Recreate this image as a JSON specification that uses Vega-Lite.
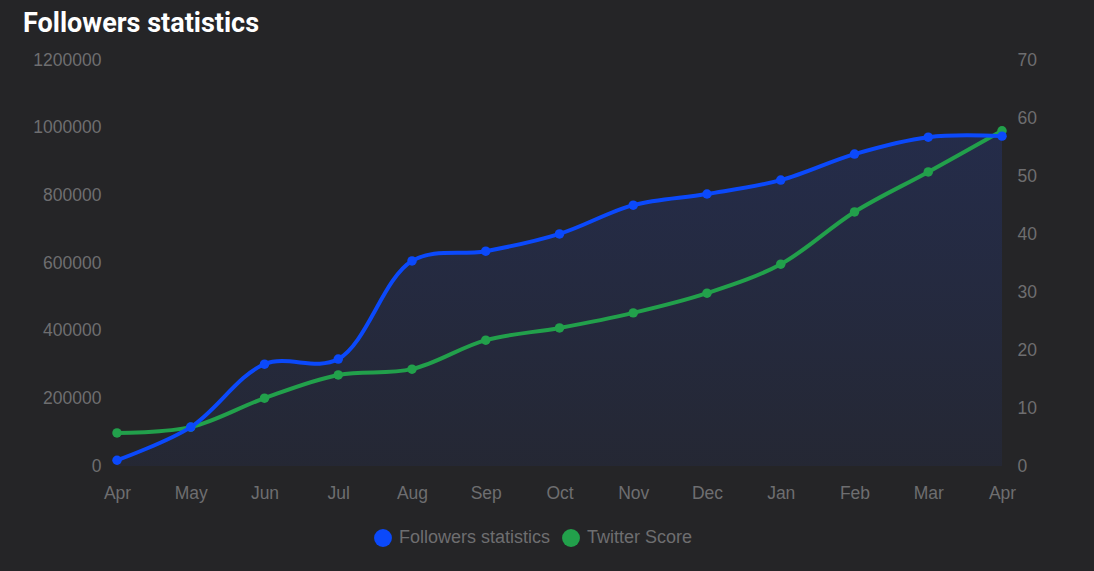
{
  "$schema": "https://vega.github.io/schema/vega-lite/v6.json",
  "autosize": "none",
  "width": 885,
  "height": 406,
  "padding": {"left": 117, "top": 60, "right": 92, "bottom": 105},
  "background": "#252527",
  "title": {"text": "Followers statistics", "anchor": "start", "frame": "group", "color": "#ffffff", "fontSize": 27, "font": "Roboto", "fontWeight": "bold", "dx": -94, "offset": 13},
  "config": {
    "view": {"stroke": null},
    "axis": {"grid": false, "domain": false, "ticks": false, "labelColor": "#6e6e70", "labelFont": "Liberation Sans", "labelFontSize": 17.5, "title": null},
    "legend": {"labelColor": "#6e6e70", "labelFont": "Liberation Sans", "labelFontSize": 18, "symbolType": "circle", "symbolSize": 320, "symbolStrokeWidth": 0, "labelOffset": 7, "title": null}
  },
  "data": {"values": [
    {"idx": 0, "series": "Followers statistics", "value": 17000},
    {"idx": 1, "series": "Followers statistics", "value": 115000},
    {"idx": 2, "series": "Followers statistics", "value": 301000},
    {"idx": 3, "series": "Followers statistics", "value": 316000},
    {"idx": 4, "series": "Followers statistics", "value": 606000},
    {"idx": 5, "series": "Followers statistics", "value": 635000},
    {"idx": 6, "series": "Followers statistics", "value": 686000},
    {"idx": 7, "series": "Followers statistics", "value": 771000},
    {"idx": 8, "series": "Followers statistics", "value": 804000},
    {"idx": 9, "series": "Followers statistics", "value": 845000},
    {"idx": 10, "series": "Followers statistics", "value": 922000},
    {"idx": 11, "series": "Followers statistics", "value": 972000},
    {"idx": 12, "series": "Followers statistics", "value": 975000},
    {"idx": 0, "series": "Twitter Score", "value": 5.7},
    {"idx": 1, "series": "Twitter Score", "value": 6.7},
    {"idx": 2, "series": "Twitter Score", "value": 11.7},
    {"idx": 3, "series": "Twitter Score", "value": 15.7},
    {"idx": 4, "series": "Twitter Score", "value": 16.7},
    {"idx": 5, "series": "Twitter Score", "value": 21.7},
    {"idx": 6, "series": "Twitter Score", "value": 23.8},
    {"idx": 7, "series": "Twitter Score", "value": 26.4},
    {"idx": 8, "series": "Twitter Score", "value": 29.8},
    {"idx": 9, "series": "Twitter Score", "value": 34.8},
    {"idx": 10, "series": "Twitter Score", "value": 43.8},
    {"idx": 11, "series": "Twitter Score", "value": 50.7},
    {"idx": 12, "series": "Twitter Score", "value": 57.8}
  ]},
  "encoding": {
    "x": {"field": "idx", "type": "quantitative", "scale": {"domain": [0, 12], "nice": false, "zero": false},
      "axis": {"values": [0,1,2,3,4,5,6,7,8,9,10,11,12], "labelExpr": "['Apr','May','Jun','Jul','Aug','Sep','Oct','Nov','Dec','Jan','Feb','Mar','Apr'][datum.value]", "labelPadding": 18, "labelFlush": false}}
  },
  "layer": [
    {
      "transform": [{"filter": "datum.series == 'Followers statistics'"}],
      "mark": {"type": "area", "interpolate": "catmull-rom", "color": {"gradient": "linear", "x1": 0, "y1": 0, "x2": 0, "y2": 1, "stops": [{"offset": 0, "color": "rgba(35,55,130,0.38)"}, {"offset": 1, "color": "rgba(35,55,130,0.14)"}]}},
      "encoding": {
        "y": {"field": "value", "type": "quantitative", "scale": {"domain": [0, 1200000], "nice": false}, "axis": null}
      }
    },
    {
      "transform": [{"filter": "datum.series == 'Twitter Score'"}],
      "encoding": {
        "y": {"field": "value", "type": "quantitative", "scale": {"domain": [0, 70], "nice": false},
          "axis": {"values": [0, 10, 20, 30, 40, 50, 60, 70], "labelPadding": 15, "orient": "right"}}
      },
      "layer": [
        {"mark": {"type": "line", "interpolate": "catmull-rom", "strokeWidth": 4},
          "encoding": {"color": {"field": "series", "type": "nominal", "scale": {"domain": ["Followers statistics", "Twitter Score"], "range": ["#0b49fb", "#22a04b"]},
            "legend": {"orient": "none", "direction": "horizontal", "legendX": 257, "legendY": 469, "columnPadding": 11}}}},
        {"mark": {"type": "point", "filled": true, "size": 90, "opacity": 1},
          "encoding": {"color": {"field": "series", "type": "nominal"}}}
      ]
    },
    {
      "transform": [{"filter": "datum.series == 'Followers statistics'"}],
      "encoding": {
        "y": {"field": "value", "type": "quantitative", "scale": {"domain": [0, 1200000], "nice": false},
          "axis": {"values": [0, 200000, 400000, 600000, 800000, 1000000, 1200000], "format": "d", "labelPadding": 16, "orient": "left"}}
      },
      "layer": [
        {"mark": {"type": "line", "interpolate": "catmull-rom", "strokeWidth": 4},
          "encoding": {"color": {"field": "series", "type": "nominal"}}},
        {"mark": {"type": "point", "filled": true, "size": 90, "opacity": 1},
          "encoding": {"color": {"field": "series", "type": "nominal"}}}
      ]
    }
  ],
  "resolve": {"scale": {"y": "independent"}}
}
